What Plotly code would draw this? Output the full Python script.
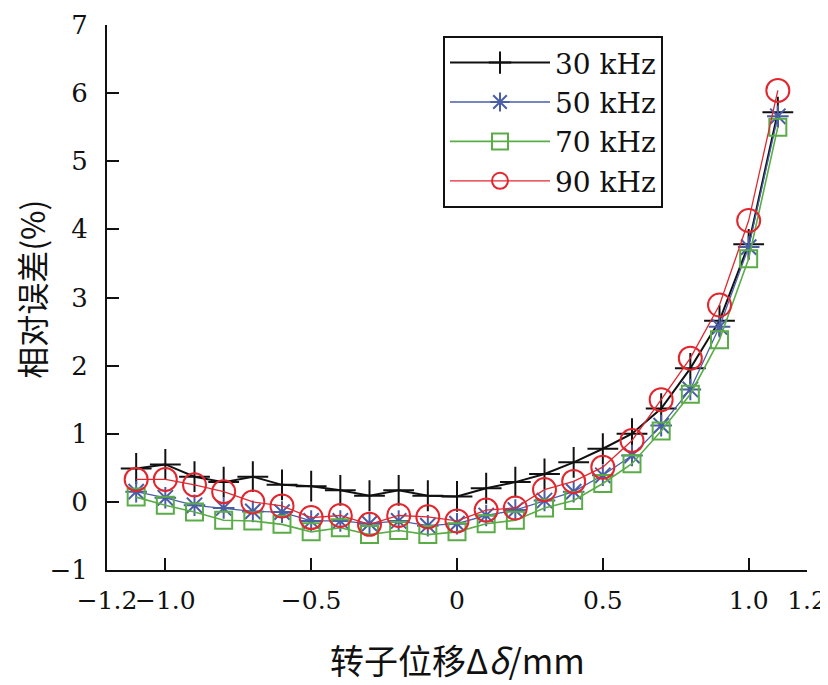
import plotly.graph_objects as go

x_vals = [-1.1, -1.0, -0.9, -0.8, -0.7, -0.6, -0.5, -0.4, -0.3, -0.2, -0.1, 0.0,
          0.1, 0.2, 0.3, 0.4, 0.5, 0.6, 0.7, 0.8, 0.9, 1.0, 1.1]

err_30k = [0.49, 0.55, 0.37, 0.29, 0.37, 0.25, 0.23, 0.17, 0.09, 0.17, 0.09, 0.08,
           0.20, 0.29, 0.41, 0.58, 0.78, 1.00, 1.37, 1.96, 2.66, 3.78, 5.72]
err_50k = [0.15, 0.06, -0.05, -0.09, -0.14, -0.15, -0.28, -0.28, -0.32, -0.28, -0.35, -0.32,
           -0.20, -0.12, 0.02, 0.15, 0.39, 0.68, 1.12, 1.65, 2.57, 3.74, 5.66]
err_70k = [0.07, -0.05, -0.15, -0.27, -0.28, -0.33, -0.44, -0.38, -0.48, -0.42, -0.48, -0.44,
           -0.32, -0.27, -0.09, 0.02, 0.27, 0.56, 1.04, 1.58, 2.38, 3.57, 5.50]
err_90k = [0.33, 0.33, 0.25, 0.15, 0.00, -0.06, -0.23, -0.20, -0.33, -0.20, -0.22, -0.28,
           -0.12, -0.09, 0.18, 0.30, 0.51, 0.90, 1.50, 2.11, 2.89, 4.13, 6.04]

series_names = ["30 kHz", "50 kHz", "70 kHz", "90 kHz"]
series_vals = [err_30k, err_50k, err_70k, err_90k]
colors = ["#111111", "#4a5ea6", "#5aad46", "#e2262e"]
symbols = ["cross-thin-open", "asterisk-open", "square-open", "circle-open"]
sizes = [22, 18, 17, 23]
line_w = [2.0, 1.3, 1.6, 1.3]

x_tickvals = [-1.2, -1.0, -0.5, 0.0, 0.5, 1.0, 1.2]
x_ticktext = ["\u22121.2", "\u22121.0", "\u22120.5", "0", "0.5", "1.0", "1.2"]
y_tickvals = [-1, 0, 1, 2, 3, 4, 5, 6, 7]
y_ticktext = ["\u22121", "0", "1", "2", "3", "4", "5", "6", "7"]

x_title = "转子位移Δ<i>δ</i>/mm"
y_title = "相对误差(%)"

fig = go.Figure()
for name, vals, c, s, sz, lw in zip(series_names, series_vals, colors, symbols, sizes, line_w):
    fig.add_trace(go.Scatter(
        x=x_vals, y=vals, name=name, mode="lines+markers",
        line=dict(color=c, width=lw),
        marker=dict(symbol=s, size=sz, color=c, line=dict(color=c, width=2)),
    ))

serif = "DejaVu Serif, Liberation Serif, serif"
cjk = "Noto Sans CJK SC, DejaVu Serif, serif"

# page body adds an 8px margin; figure is sized to fill the rest of the window
fig.update_layout(
    width=820, height=677,
    margin=dict(l=99, r=21, t=17, b=115),
    paper_bgcolor="white", plot_bgcolor="white",
    font=dict(family=serif, size=27, color="#111111"),
    showlegend=True,
    legend=dict(
        x=0.48, y=0.98, xanchor="left", yanchor="top",
        bordercolor="#111111", borderwidth=2, bgcolor="white",
        font=dict(family=serif, size=28, color="#111111"),
        itemwidth=100, tracegroupgap=0,
    ),
    xaxis=dict(
        range=[-1.2, 1.2], tickvals=x_tickvals, ticktext=x_ticktext, tickangle=0,
        showgrid=False, zeroline=False, showline=True, linecolor="#111111", linewidth=2,
        ticks="inside", ticklen=12, tickwidth=2, tickcolor="#111111",
        tickfont=dict(family=serif, size=25), automargin=False,
        ticklabelstandoff=7, ticklabeloverflow="allow",
    ),
    yaxis=dict(
        range=[-1, 7], tickvals=y_tickvals, ticktext=y_ticktext,
        showgrid=False, zeroline=False, showline=True, linecolor="#111111", linewidth=2,
        ticks="inside", ticklen=12, tickwidth=2, tickcolor="#111111",
        tickfont=dict(family=serif, size=26), automargin=False,
        ticklabelstandoff=12, ticklabeloverflow="allow",
    ),
    annotations=[
        dict(text=x_title, xref="paper", yref="paper", x=0.5, y=-0.165,
             xanchor="center", yanchor="middle", showarrow=False,
             font=dict(family=cjk, size=34, color="#111111")),
        dict(text=y_title, xref="paper", yref="paper", x=-0.108, y=0.515,
             xanchor="center", yanchor="middle", showarrow=False, textangle=-90,
             font=dict(family=cjk, size=32, color="#111111")),
    ],
)

fig.write_html("out.html")
